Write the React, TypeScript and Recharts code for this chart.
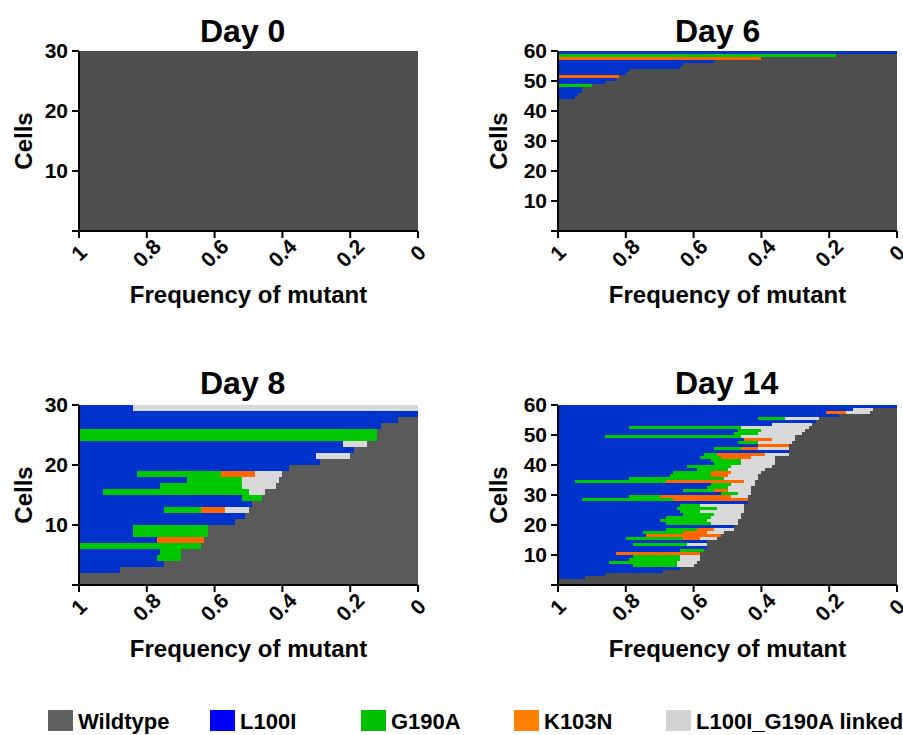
import React from "react";
import { Bar, BarChart, XAxis, YAxis } from "recharts";

// frequencies per cell, row 1 = bottom of the plot; L100I is what is left of each row
const freqTicks = [1, 0.8, 0.6, 0.4, 0.2, 0];
const cellTicks30 = [0, 10, 20, 30];
const cellTicks60 = [0, 10, 20, 30, 40, 50, 60];

// Day 0 (30 cells)
const day0Wildtype = [
  1, 1, 1, 1, 1, 1, 1, 1, 1, 1,
  1, 1, 1, 1, 1, 1, 1, 1, 1, 1,
  1, 1, 1, 1, 1, 1, 1, 1, 1, 1,
];
const day0Linked = [
  0, 0, 0, 0, 0, 0, 0, 0, 0, 0,
  0, 0, 0, 0, 0, 0, 0, 0, 0, 0,
  0, 0, 0, 0, 0, 0, 0, 0, 0, 0,
];
const day0K103N = [
  0, 0, 0, 0, 0, 0, 0, 0, 0, 0,
  0, 0, 0, 0, 0, 0, 0, 0, 0, 0,
  0, 0, 0, 0, 0, 0, 0, 0, 0, 0,
];
const day0G190A = [
  0, 0, 0, 0, 0, 0, 0, 0, 0, 0,
  0, 0, 0, 0, 0, 0, 0, 0, 0, 0,
  0, 0, 0, 0, 0, 0, 0, 0, 0, 0,
];

// Day 6 (60 cells)
const day6Wildtype = [
  1, 1, 1, 1, 1, 1, 1, 1, 1, 1,
  1, 1, 1, 1, 1, 1, 1, 1, 1, 1,
  1, 1, 1, 1, 1, 1, 1, 1, 1, 1,
  1, 1, 1, 1, 1, 1, 1, 1, 1, 1,
  1, 1, 1, 1, 0.95, 0.94, 0.93, 0.93, 0.9, 0.86,
  0.83, 0.82, 0.8, 0.79, 0.64, 0.63, 0.54, 0.4, 0.18, 0,
];
const day6Linked = [
  0, 0, 0, 0, 0, 0, 0, 0, 0, 0,
  0, 0, 0, 0, 0, 0, 0, 0, 0, 0,
  0, 0, 0, 0, 0, 0, 0, 0, 0, 0,
  0, 0, 0, 0, 0, 0, 0, 0, 0, 0,
  0, 0, 0, 0, 0, 0, 0, 0, 0, 0,
  0, 0, 0, 0, 0, 0, 0, 0, 0, 0,
];
const day6K103N = [
  0, 0, 0, 0, 0, 0, 0, 0, 0, 0,
  0, 0, 0, 0, 0, 0, 0, 0, 0, 0,
  0, 0, 0, 0, 0, 0, 0, 0, 0, 0,
  0, 0, 0, 0, 0, 0, 0, 0, 0, 0,
  0, 0, 0, 0, 0, 0, 0, 0, 0, 0,
  0, 0.18, 0, 0, 0, 0, 0, 0.6, 0, 0,
];
const day6G190A = [
  0, 0, 0, 0, 0, 0, 0, 0, 0, 0,
  0, 0, 0, 0, 0, 0, 0, 0, 0, 0,
  0, 0, 0, 0, 0, 0, 0, 0, 0, 0,
  0, 0, 0, 0, 0, 0, 0, 0, 0, 0,
  0, 0, 0, 0, 0, 0, 0, 0, 0.1, 0,
  0, 0, 0, 0, 0, 0, 0, 0, 0.82, 0,
];

// Day 8 (30 cells)
const day8Wildtype = [
  1, 1, 0.88, 0.75, 0.7, 0.7, 0.64, 0.63, 0.62, 0.62,
  0.54, 0.51, 0.5, 0.49, 0.46, 0.45, 0.42, 0.41, 0.4, 0.38,
  0.29, 0.2, 0.19, 0.15, 0.12, 0.12, 0.11, 0.06, 0, 0,
];
const day8Linked = [
  0, 0, 0, 0, 0, 0, 0, 0, 0, 0,
  0, 0, 0.07, 0, 0, 0.05, 0.1, 0.11, 0.08, 0,
  0, 0.1, 0, 0.07, 0, 0, 0, 0, 0, 0.84,
];
const day8K103N = [
  0, 0, 0, 0, 0, 0, 0, 0.14, 0, 0,
  0, 0, 0.07, 0, 0, 0, 0, 0, 0.1, 0,
  0, 0, 0, 0, 0, 0, 0, 0, 0, 0,
];
const day8G190A = [
  0, 0, 0, 0, 0.07, 0.06, 0.36, 0, 0.22, 0.22,
  0, 0, 0.11, 0, 0.06, 0.43, 0.24, 0.16, 0.25, 0,
  0, 0, 0, 0, 0.88, 0.88, 0, 0, 0, 0,
];

// Day 14 (60 cells)
const day14Wildtype = [
  1, 1, 0.92, 0.86, 0.69, 0.64, 0.6, 0.59, 0.58, 0.58,
  0.58, 0.57, 0.56, 0.56, 0.56, 0.53, 0.52, 0.51, 0.48, 0.48,
  0.47, 0.47, 0.46, 0.46, 0.45, 0.45, 0.45, 0.44, 0.44, 0.44,
  0.43, 0.43, 0.43, 0.42, 0.42, 0.41, 0.41, 0.4, 0.39, 0.37,
  0.36, 0.36, 0.36, 0.32, 0.32, 0.32, 0.32, 0.31, 0.3, 0.3,
  0.28, 0.27, 0.26, 0.25, 0.24, 0.23, 0.17, 0.08, 0.07, 0,
];
const day14Linked = [
  0, 0, 0, 0, 0, 0, 0.05, 0.06, 0.06, 0.06,
  0, 0, 0, 0.06, 0, 0.05, 0, 0.05, 0.06, 0,
  0.08, 0.09, 0.09, 0.08, 0.13, 0.08, 0.13, 0, 0, 0.05,
  0.04, 0.07, 0.07, 0.07, 0.03, 0.1, 0.09, 0.09, 0.11, 0.12,
  0.1, 0.1, 0.07, 0.07, 0, 0.09, 0, 0.1, 0.07, 0.16,
  0.13, 0.13, 0.2, 0.12, 0, 0.1, 0, 0.07, 0.06, 0,
];
const day14K103N = [
  0, 0, 0, 0, 0, 0, 0, 0, 0, 0,
  0.25, 0, 0, 0, 0, 0.05, 0.22, 0.07, 0.05, 0,
  0, 0, 0, 0, 0, 0, 0, 0, 0.22, 0.21,
  0, 0.04, 0, 0, 0.23, 0, 0.05, 0.06, 0, 0,
  0, 0, 0.09, 0.14, 0, 0.05, 0.09, 0, 0.08, 0,
  0, 0, 0, 0, 0, 0, 0, 0.06, 0, 0,
];
const day14G190A = [
  0, 0, 0, 0, 0, 0, 0.13, 0.2, 0.15, 0.14,
  0, 0.07, 0, 0.16, 0, 0.17, 0, 0.12, 0.09, 0,
  0.13, 0.14, 0.13, 0.09, 0.06, 0.12, 0.06, 0, 0.27, 0.09,
  0.05, 0.09, 0.06, 0.06, 0.27, 0.28, 0.12, 0.11, 0.09, 0.13,
  0.08, 0.09, 0.06, 0.04, 0, 0.08, 0, 0.06, 0, 0.4,
  0.07, 0.07, 0.33, 0, 0, 0.08, 0, 0, 0, 0,
];

const legendNames = ["Wildtype", "L100I", "G190A", "K103N", "L100I_G190A linked"];
const legendColors = ["#606060", "#0000ff", "#00c000", "#ff8000", "#d3d3d3"];
const legendX = [48, 210, 361, 514, 666];

const BLUE = "#0033cc";
const GREEN = "#00c800";
const ORANGE = "#ff6600";
const LINKED = "#d9d9d9";

const FONT = "'Liberation Sans', Arial, sans-serif";
const axisStyle = { stroke: "#000", strokeWidth: 2 };

function buildRows(wildtype: number[], linked: number[], k103n: number[], g190a: number[]) {
  return wildtype.map((w, i) => {
    const rest = 1 - w - linked[i] - k103n[i] - g190a[i];
    return {
      cell: i + 0.5,
      wildtype: w,
      linked: linked[i],
      k103n: k103n[i],
      g190a: g190a[i],
      l100i: Math.max(0, Math.round(rest * 1000) / 1000),
    };
  });
}

const FreqTick = (props: any) => {
  const { x, y, payload } = props;
  return (
    <g transform={`translate(${x},${y + 13}) rotate(-45)`}>
      <text textAnchor="middle" dy="0.35em" fontSize={21} fontWeight="bold" fill="#000">
        {payload.value}
      </text>
    </g>
  );
};

interface PanelProps {
  rows: any[];
  yMax: number;
  yTicks: number[];
  wildColor: string;
  left: number;
  top: number;
  labelLeft: number;
  width: number;
}

const Panel: React.FC<PanelProps> = ({ rows, yMax, yTicks, wildColor, left, top, labelLeft, width }) => (
  <div style={{ position: "absolute", left, top }}>
    <BarChart
      width={width}
      height={320}
      data={rows}
      layout="vertical"
      barCategoryGap={0}
      barGap={0}
      margin={{ top: 51, right: width - 418, bottom: 0, left: labelLeft }}
    >
      <Bar dataKey="wildtype" stackId="cell" fill={wildColor} isAnimationActive={false} />
      <Bar dataKey="linked" stackId="cell" fill={LINKED} isAnimationActive={false} />
      <Bar dataKey="k103n" stackId="cell" fill={ORANGE} isAnimationActive={false} />
      <Bar dataKey="g190a" stackId="cell" fill={GREEN} isAnimationActive={false} />
      <Bar dataKey="l100i" stackId="cell" fill={BLUE} isAnimationActive={false} />
      <XAxis
        type="number"
        domain={[0, 1]}
        reversed
        ticks={freqTicks}
        interval={0}
        height={89}
        tickSize={7}
        tickMargin={2}
        axisLine={axisStyle}
        tickLine={axisStyle}
        tick={(p: any) => <FreqTick {...p} />}
        label={{
          value: "Frequency of mutant",
          position: "insideBottom",
          offset: 17,
          fill: "#000",
          fontSize: 24,
          fontWeight: "bold",
        }}
      />
      <YAxis
        type="number"
        dataKey="cell"
        domain={[0, yMax]}
        reversed
        ticks={yTicks}
        interval={0}
        width={79 - labelLeft}
        tickSize={7}
        tickMargin={4}
        axisLine={axisStyle}
        tickLine={axisStyle}
        tick={{ fill: "#000", fontSize: 21, fontWeight: "bold" }}
        tickFormatter={(v: number) => (v === 0 ? "" : String(v))}
        label={{
          value: "Cells",
          angle: -90,
          position: "insideLeft",
          offset: 0,
          fill: "#000",
          fontSize: 24,
          fontWeight: "bold",
          style: { textAnchor: "middle" },
        }}
      />
    </BarChart>
  </div>
);

export default function App() {
  return (
    <div style={{ position: "absolute", left: 0, top: 0, width: 903, height: 735, overflow: "hidden", fontFamily: FONT, background: "#fff" }}>
      <style>{`.recharts-rectangle { shape-rendering: crispEdges; }`}</style>
      <Panel rows={buildRows(day0Wildtype, day0Linked, day0K103N, day0G190A)} yMax={30} yTicks={cellTicks30} wildColor="#4e4e4e" left={0} top={0} labelLeft={23} width={440} />
      <Panel rows={buildRows(day6Wildtype, day6Linked, day6K103N, day6G190A)} yMax={60} yTicks={cellTicks60} wildColor="#4e4e4e" left={479} top={0} labelLeft={19} width={424} />
      <Panel rows={buildRows(day8Wildtype, day8Linked, day8K103N, day8G190A)} yMax={30} yTicks={cellTicks30} wildColor="#5a5a5a" left={0} top={354} labelLeft={23} width={440} />
      <Panel rows={buildRows(day14Wildtype, day14Linked, day14K103N, day14G190A)} yMax={60} yTicks={cellTicks60} wildColor="#4e4e4e" left={479} top={354} labelLeft={19} width={424} />
      <svg width={903} height={735} style={{ position: "absolute", left: 0, top: 0, pointerEvents: "none" }}>
        <g fontWeight="bold" fill="#000" fontSize={32}>
          <text x={200} y={41.5}>Day 0</text>
          <text x={675} y={41.5}>Day 6</text>
          <text x={200} y={393.5}>Day 8</text>
          <text x={675} y={393.5}>Day 14</text>
        </g>
        {legendNames.map((name, i) => (
          <g key={name}>
            <rect x={legendX[i]} y={710} width={25} height={21} fill={legendColors[i]} />
            <text x={legendX[i] + 30} y={729} fontSize={22} fontWeight="bold" fill="#000">
              {name}
            </text>
          </g>
        ))}
      </svg>
    </div>
  );
}
